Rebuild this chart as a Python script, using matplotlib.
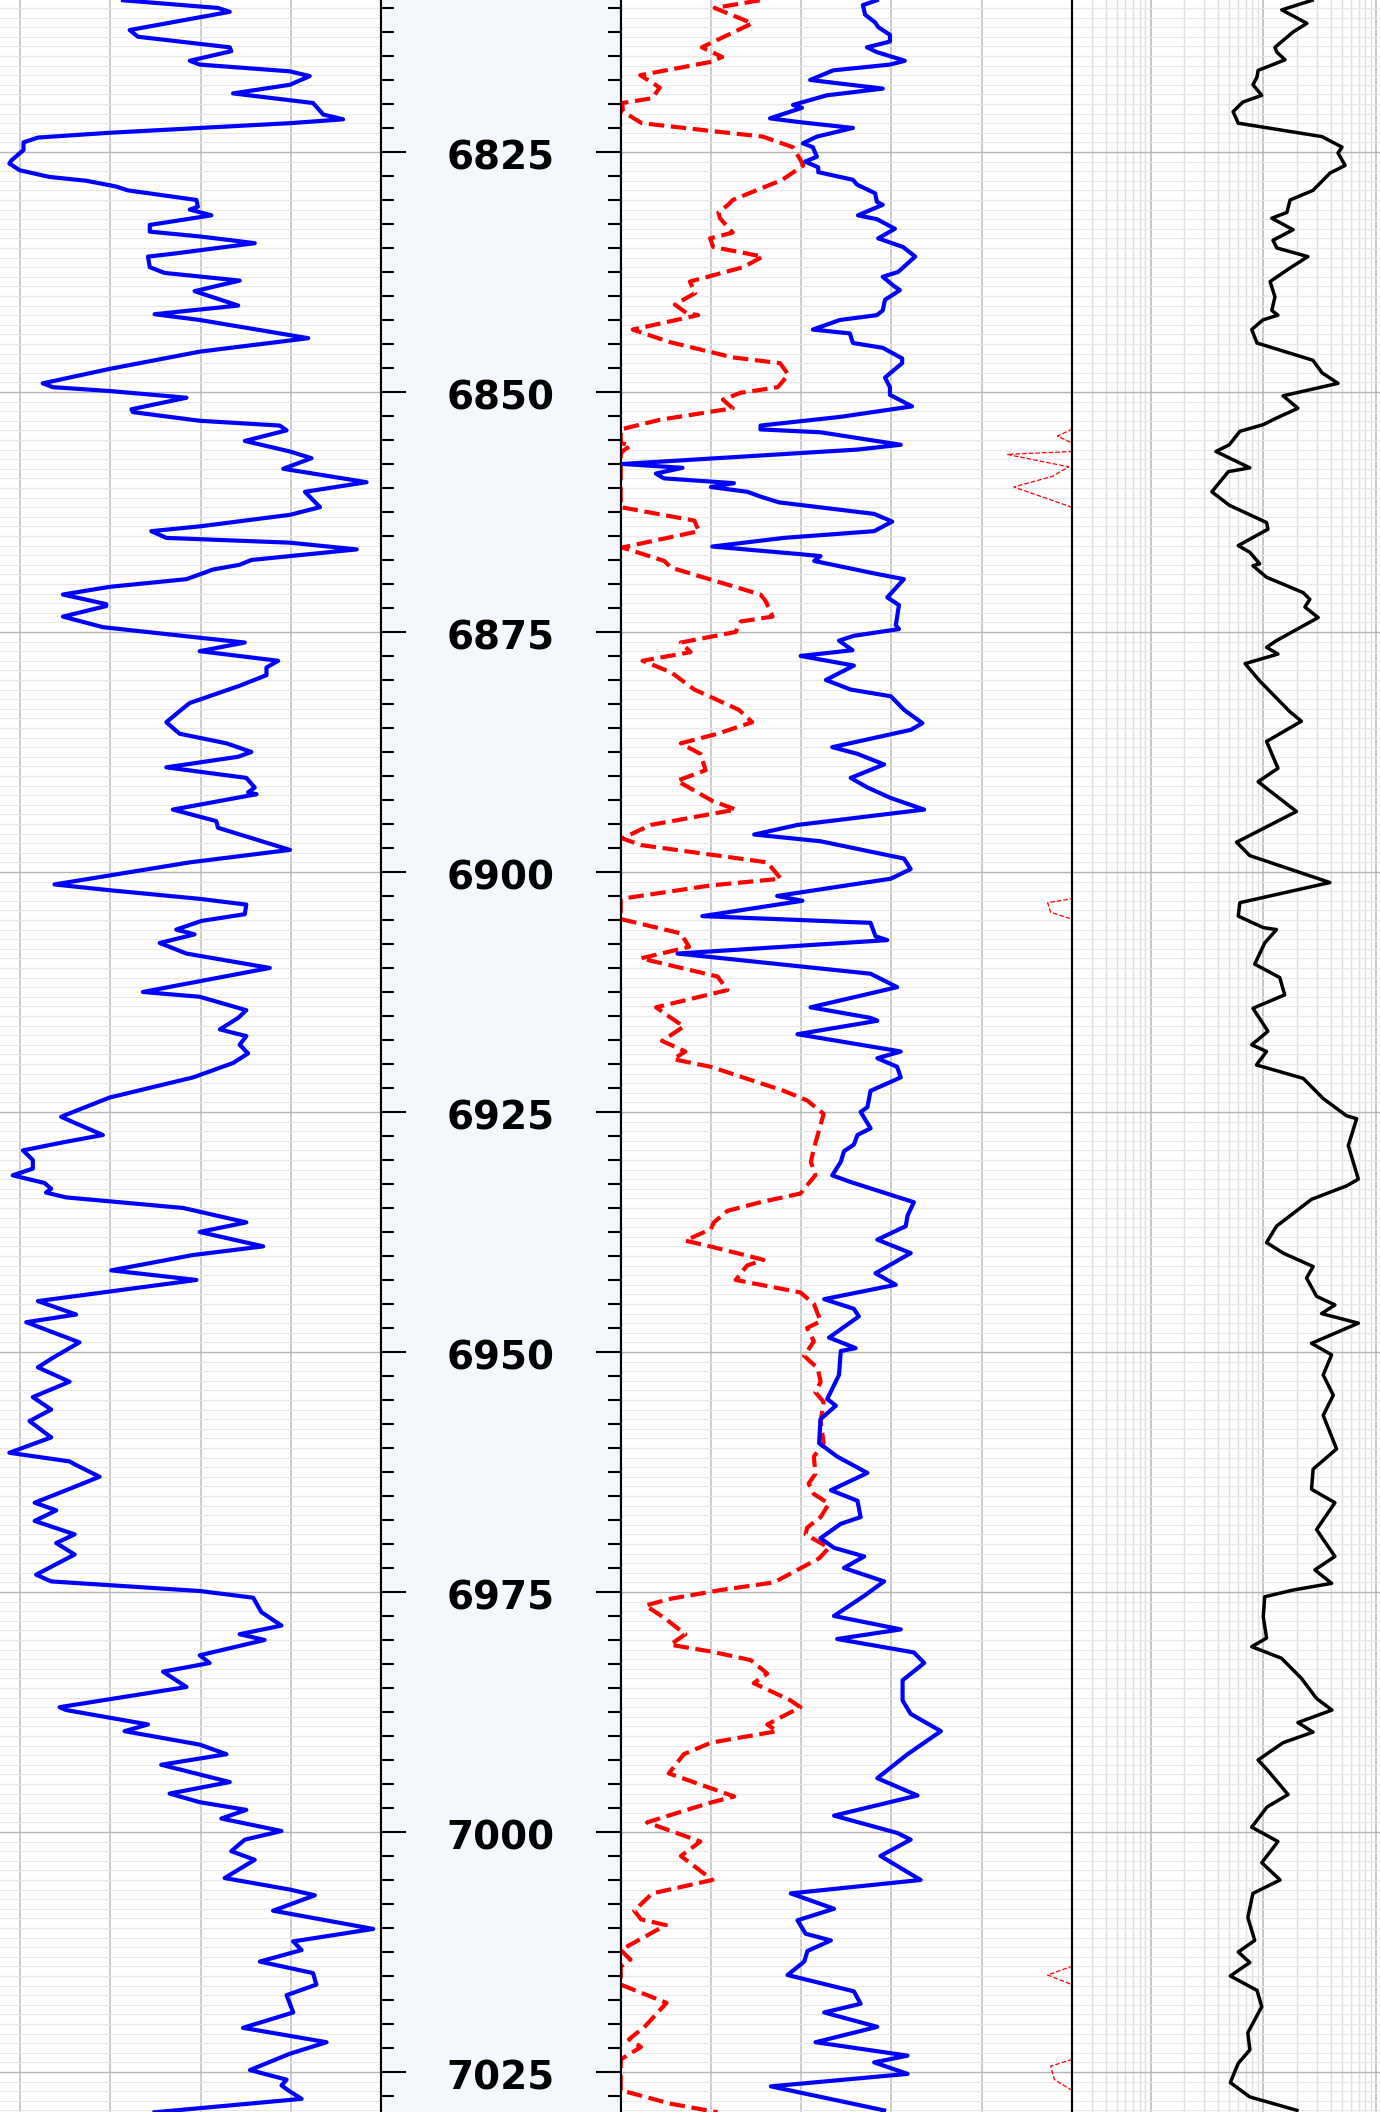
import numpy as np
import matplotlib
matplotlib.use("Agg")
import matplotlib.pyplot as plt
from matplotlib.ticker import MultipleLocator
from matplotlib.transforms import offset_copy

# zakres glebokosci widoczny na obrazku
TOP = 6809.17
BASE = 7029.17
depth_labels = [6825, 6850, 6875, 6900, 6925, 6950, 6975, 7000, 7025]

# GR (sciezka 1)
gr_depth = [6809.2, 6810.0, 6810.4, 6812.3, 6813.0, 6814.1, 6814.5, 6815.5, 6815.9, 6816.6,
            6817.1, 6818.0, 6818.9, 6819.9, 6821.1, 6821.6, 6822.0, 6823.0, 6823.5, 6824.0,
            6824.8, 6825.9, 6826.2, 6826.9, 6827.6, 6828.0, 6828.6, 6829.0, 6830.0, 6830.7,
            6831.0, 6831.6, 6832.6, 6833.3, 6833.8, 6834.5, 6835.6, 6835.9, 6837.0, 6837.6,
            6838.4, 6839.5, 6841.0, 6841.9, 6842.5, 6844.4, 6845.8, 6847.6, 6849.1, 6849.5,
            6849.9, 6850.6, 6851.8, 6852.1, 6853.0, 6853.5, 6854.0, 6855.1, 6856.2, 6856.9,
            6858.0, 6859.4, 6860.4, 6862.0, 6862.8, 6864.0, 6864.5, 6865.2, 6865.7, 6866.4,
            6867.1, 6867.5, 6868.0, 6868.5, 6869.5, 6870.3, 6871.1, 6872.1, 6872.3, 6873.4,
            6874.5, 6875.6, 6876.1, 6877.0, 6878.0, 6878.7, 6879.5, 6880.6, 6882.4, 6883.1,
            6884.4, 6885.6, 6886.6, 6887.5, 6888.0, 6889.1, 6890.2, 6891.2, 6891.7, 6891.9,
            6893.5, 6894.7, 6895.4, 6897.7, 6899.0, 6901.3, 6901.9, 6902.8, 6903.4, 6904.4,
            6905.1, 6906.0, 6906.5, 6907.4, 6908.5, 6910.0, 6912.5, 6913.0, 6914.4, 6915.2,
            6916.4, 6917.1, 6918.0, 6918.9, 6919.9, 6921.4, 6923.5, 6925.5, 6926.2, 6927.4,
            6928.1, 6929.0, 6930.0, 6930.9, 6931.6, 6932.4, 6933.0, 6933.4, 6933.9, 6935.0,
            6936.5, 6937.5, 6939.0, 6939.9, 6941.5, 6942.5, 6944.7, 6946.1, 6946.9, 6949.0,
            6950.6, 6951.6, 6953.1, 6954.7, 6956.0, 6957.2, 6958.9, 6960.5, 6961.4, 6961.7,
            6963.0, 6964.4, 6965.7, 6966.5, 6967.6, 6969.0, 6969.9, 6971.1, 6973.2, 6973.9,
            6974.9, 6975.6, 6977.1, 6978.5, 6979.4, 6980.0, 6981.6, 6982.4, 6983.3, 6984.9,
            6987.0, 6987.3, 6988.8, 6989.5, 6990.9, 6991.9, 6993.0, 6994.8, 6996.0, 6996.9,
            6997.7, 6998.6, 6999.9, 7000.8, 7002.0, 7002.9, 7004.8, 7006.0, 7006.6, 7008.2,
            7010.1, 7011.4, 7012.3, 7013.5, 7014.7, 7015.9, 7017.0, 7018.8, 7020.4, 7021.9,
            7023.1, 7024.8, 7025.8, 7026.4, 7026.9, 7027.8, 7029.2]
gr = [64.2, 95.8, 99.7, 66.4, 69.2, 99.7, 100.2, 86.4, 89.7, 119.7,
      126.3, 119.7, 100.8, 127.4, 130.8, 137.4, 119.7, 59.7, 35.9, 31.1,
      31.1, 27.0, 26.4, 29.8, 39.7, 52.0, 61.9, 65.8, 88.6, 89.1,
      86.4, 93.6, 73.1, 73.1, 89.7, 108.0, 80.8, 72.5, 73.1, 78.0,
      103.0, 88.0, 102.5, 74.7, 89.7, 125.8, 89.7, 59.7, 37.5, 40.9,
      59.7, 85.3, 67.0, 67.5, 89.7, 116.3, 118.6, 104.7, 119.7, 126.9,
      117.5, 145.2, 124.7, 129.7, 119.7, 89.7, 73.6, 78.6, 119.7, 141.9,
      119.7, 106.9, 103.0, 94.1, 85.3, 59.7, 44.2, 58.6, 58.6, 44.2,
      57.5, 89.7, 104.7, 89.7, 115.8, 111.9, 111.9, 103.0, 86.4, 83.6,
      78.6, 83.0, 98.6, 106.9, 102.5, 78.6, 105.2, 108.0, 105.8, 108.6,
      80.8, 95.2, 95.8, 119.7, 86.4, 41.4, 59.7, 89.7, 105.2, 104.7,
      90.3, 81.9, 88.0, 76.4, 85.3, 113.0, 70.8, 89.7, 105.2, 102.5,
      96.4, 105.2, 103.0, 105.8, 100.8, 87.5, 59.7, 43.6, 48.6, 57.5,
      45.3, 30.9, 34.2, 34.2, 27.5, 38.1, 40.3, 38.6, 45.3, 84.2,
      105.2, 89.7, 110.8, 87.5, 60.3, 88.6, 35.9, 48.6, 32.0, 49.7,
      40.9, 35.9, 46.4, 34.2, 40.3, 33.1, 40.3, 26.4, 46.4, 48.1,
      56.4, 45.3, 34.8, 42.0, 34.8, 48.1, 42.0, 48.1, 35.3, 40.3,
      89.7, 107.5, 110.2, 116.9, 103.0, 111.3, 89.7, 93.0, 77.5, 85.3,
      43.1, 45.3, 72.5, 64.7, 89.7, 98.6, 76.9, 99.7, 79.7, 89.7,
      105.2, 96.9, 116.9, 104.7, 100.2, 108.0, 98.0, 119.7, 128.0, 114.1,
      147.4, 120.8, 123.6, 109.7, 127.4, 128.5, 118.6, 120.8, 104.1, 131.9,
      119.7, 106.4, 118.6, 116.9, 119.1, 123.6, 74.7]

# NPHI (czerwona przerywana, sciezka 3)
nphi_depth = [6809.2, 6810.0, 6811.6, 6814.1, 6815.1, 6815.6, 6817.0, 6818.3, 6819.4, 6819.9,
              6820.8, 6822.0, 6822.8, 6823.4, 6824.5, 6825.8, 6826.4, 6827.9, 6830.0, 6830.5,
              6831.3, 6831.9, 6833.4, 6834.0, 6834.9, 6835.9, 6837.0, 6838.5, 6839.7, 6840.9,
              6841.8, 6842.0, 6843.5, 6844.8, 6846.4, 6847.0, 6848.2, 6849.5, 6850.1, 6850.8,
              6851.7, 6852.9, 6853.9, 6854.6, 6855.3, 6855.6, 6856.2, 6856.5, 6857.8, 6858.8,
              6859.9, 6862.0, 6863.4, 6864.5, 6866.2, 6867.6, 6868.3, 6871.1, 6871.8, 6873.4,
              6873.9, 6875.0, 6876.1, 6877.1, 6878.0, 6879.2, 6881.0, 6883.1, 6884.4, 6885.6,
              6886.6, 6887.7, 6889.4, 6890.5, 6892.6, 6893.5, 6895.1, 6896.5, 6897.2, 6899.0,
              6900.7, 6901.4, 6902.8, 6903.2, 6904.2, 6904.9, 6906.4, 6907.8, 6909.0, 6910.9,
              6912.3, 6914.1, 6915.2, 6916.1, 6917.6, 6918.7, 6919.5, 6920.3, 6922.8, 6923.8,
              6925.2, 6926.3, 6928.8, 6930.2, 6931.6, 6933.0, 6933.5, 6934.4, 6935.3, 6936.5,
              6937.2, 6938.4, 6939.1, 6940.4, 6941.0, 6942.5, 6943.8, 6945.0, 6946.8, 6947.5,
              6948.9, 6950.4, 6951.7, 6953.1, 6954.2, 6955.2, 6957.2, 6959.5, 6960.9, 6962.7,
              6963.7, 6964.8, 6965.8, 6967.2, 6968.3, 6969.0, 6970.4, 6971.5, 6974.0, 6974.8,
              6975.7, 6976.4, 6977.7, 6979.4, 6980.5, 6981.2, 6982.1, 6983.5, 6984.5, 6986.3,
              6987.0, 6988.8, 6989.5, 6990.7, 6991.9, 6993.9, 6996.3, 6997.0, 6999.0, 7001.0,
              7002.5, 7005.0, 7006.4, 7008.2, 7009.1, 7009.7, 7012.3, 7013.3, 7014.0, 7014.9,
              7015.9, 7017.8, 7020.2, 7021.6, 7022.4, 7023.7, 7024.4, 7025.8, 7026.9, 7028.3,
              7029.2]
nphi = [0.265, 0.325, 0.275, 0.342, 0.315, 0.329, 0.424, 0.398, 0.408, 0.448,
        0.447, 0.422, 0.331, 0.261, 0.221, 0.211, 0.207, 0.235, 0.301, 0.307,
        0.320, 0.318, 0.301, 0.331, 0.327, 0.261, 0.287, 0.358, 0.351, 0.378,
        0.362, 0.347, 0.434, 0.385, 0.301, 0.238, 0.227, 0.241, 0.291, 0.314,
        0.301, 0.398, 0.450, 0.469, 0.450, 0.437, 0.448, 0.536, 0.454, 0.476,
        0.527, 0.450, 0.352, 0.346, 0.448, 0.392, 0.383, 0.264, 0.257, 0.248,
        0.290, 0.297, 0.370, 0.357, 0.421, 0.383, 0.352, 0.293, 0.275, 0.321,
        0.370, 0.344, 0.337, 0.375, 0.328, 0.297, 0.410, 0.448, 0.423, 0.255,
        0.237, 0.330, 0.450, 0.482, 0.478, 0.450, 0.370, 0.359, 0.423, 0.321,
        0.308, 0.403, 0.383, 0.366, 0.395, 0.364, 0.380, 0.330, 0.233, 0.202,
        0.180, 0.184, 0.193, 0.197, 0.191, 0.206, 0.211, 0.264, 0.308, 0.326,
        0.330, 0.364, 0.326, 0.260, 0.282, 0.297, 0.211, 0.193, 0.184, 0.202,
        0.193, 0.206, 0.188, 0.184, 0.191, 0.180, 0.184, 0.180, 0.193, 0.191,
        0.200, 0.193, 0.173, 0.184, 0.202, 0.204, 0.173, 0.186, 0.246, 0.317,
        0.383, 0.417, 0.392, 0.364, 0.384, 0.330, 0.277, 0.255, 0.273, 0.224,
        0.211, 0.255, 0.242, 0.330, 0.366, 0.386, 0.299, 0.333, 0.415, 0.344,
        0.370, 0.328, 0.408, 0.432, 0.423, 0.390, 0.450, 0.437, 0.450, 0.482,
        0.450, 0.389, 0.417, 0.439, 0.423, 0.450, 0.478, 0.473, 0.450, 0.384,
        0.321]

# RHOB (niebieska, sciezka 3)
rhob_depth = [6809.2, 6809.7, 6810.7, 6811.5, 6812.0, 6812.8, 6813.5, 6814.1, 6814.6, 6815.5,
              6815.9, 6816.5, 6817.5, 6818.4, 6819.1, 6819.8, 6820.1, 6820.4, 6821.5, 6821.9,
              6822.5, 6823.4, 6824.1, 6824.5, 6825.5, 6826.0, 6826.6, 6827.1, 6827.9, 6828.4,
              6829.3, 6830.2, 6830.5, 6831.6, 6832.0, 6833.0, 6834.0, 6834.9, 6835.9, 6837.5,
              6838.0, 6838.9, 6839.4, 6840.4, 6841.5, 6842.0, 6842.5, 6843.5, 6843.9, 6844.9,
              6845.4, 6846.5, 6847.0, 6848.5, 6849.5, 6850.3, 6851.5, 6852.6, 6853.5, 6853.9,
              6854.2, 6855.5, 6856.0, 6857.5, 6857.9, 6858.5, 6859.0, 6859.5, 6859.9, 6860.4,
              6860.9, 6861.5, 6862.7, 6863.5, 6864.5, 6865.2, 6866.1, 6866.9, 6867.1, 6867.6,
              6868.9, 6869.5, 6871.4, 6872.2, 6874.3, 6874.7, 6875.4, 6875.9, 6876.9, 6877.5,
              6878.5, 6880.0, 6881.0, 6881.7, 6883.1, 6884.5, 6885.2, 6887.0, 6887.7, 6888.8,
              6890.2, 6891.2, 6892.3, 6893.5, 6895.1, 6896.1, 6896.8, 6898.6, 6899.7, 6900.7,
              6902.5, 6903.0, 6904.6, 6905.3, 6906.7, 6907.1, 6908.5, 6910.6, 6912.0, 6914.1,
              6915.2, 6915.5, 6916.9, 6918.7, 6919.4, 6920.3, 6921.4, 6922.8, 6924.5, 6925.0,
              6926.7, 6927.4, 6928.4, 6929.1, 6930.2, 6931.6, 6932.3, 6934.4, 6935.8, 6936.9,
              6938.3, 6939.7, 6941.1, 6941.8, 6943.0, 6944.5, 6945.5, 6946.3, 6948.5, 6949.6,
              6949.9, 6952.4, 6954.9, 6955.6, 6957.0, 6959.5, 6960.9, 6962.6, 6964.4, 6965.5,
              6967.2, 6967.9, 6969.4, 6970.4, 6971.3, 6972.5, 6973.9, 6975.4, 6977.5, 6978.9,
              6979.9, 6981.3, 6982.4, 6984.2, 6986.3, 6987.7, 6989.5, 6991.9, 6994.4, 6996.2,
              6998.3, 7000.1, 7000.8, 7002.5, 7005.0, 7006.4, 7008.0, 7009.2, 7010.6, 7011.3,
              7012.4, 7013.5, 7014.9, 7016.6, 7017.9, 7018.8, 7020.3, 7021.9, 7023.3, 7024.0,
              7025.2, 7026.5, 7029.0]
rhob = [2.518, 2.487, 2.492, 2.514, 2.521, 2.547, 2.547, 2.496, 2.518, 2.580,
        2.547, 2.421, 2.370, 2.531, 2.407, 2.354, 2.332, 2.352, 2.281, 2.348,
        2.465, 2.385, 2.354, 2.376, 2.385, 2.359, 2.388, 2.388, 2.465, 2.474,
        2.514, 2.518, 2.531, 2.476, 2.518, 2.558, 2.521, 2.576, 2.603, 2.565,
        2.531, 2.554, 2.569, 2.536, 2.531, 2.518, 2.436, 2.376, 2.458, 2.465,
        2.531, 2.574, 2.574, 2.536, 2.547, 2.547, 2.596, 2.436, 2.260, 2.260,
        2.393, 2.571, 2.475, 1.954, 2.087, 2.028, 2.046, 2.201, 2.150, 2.231,
        2.260, 2.301, 2.512, 2.552, 2.512, 2.312, 2.153, 2.349, 2.393, 2.379,
        2.512, 2.578, 2.541, 2.567, 2.560, 2.567, 2.467, 2.434, 2.464, 2.349,
        2.467, 2.405, 2.460, 2.549, 2.578, 2.619, 2.593, 2.419, 2.475, 2.534,
        2.460, 2.497, 2.549, 2.623, 2.342, 2.246, 2.393, 2.578, 2.593, 2.549,
        2.297, 2.353, 2.131, 2.504, 2.515, 2.541, 2.076, 2.504, 2.563, 2.371,
        2.504, 2.519, 2.342, 2.571, 2.519, 2.563, 2.571, 2.504, 2.497, 2.482,
        2.504, 2.475, 2.467, 2.445, 2.438, 2.419, 2.460, 2.600, 2.586, 2.582,
        2.519, 2.593, 2.541, 2.515, 2.560, 2.401, 2.467, 2.478, 2.412, 2.471,
        2.438, 2.434, 2.408, 2.427, 2.393, 2.390, 2.430, 2.497, 2.416, 2.475,
        2.482, 2.438, 2.393, 2.423, 2.490, 2.445, 2.534, 2.490, 2.423, 2.571,
        2.430, 2.600, 2.623, 2.575, 2.575, 2.593, 2.660, 2.586, 2.519, 2.608,
        2.423, 2.563, 2.593, 2.526, 2.615, 2.327, 2.423, 2.342, 2.360, 2.416,
        2.364, 2.357, 2.320, 2.467, 2.482, 2.401, 2.519, 2.382, 2.586, 2.512,
        2.586, 2.283, 2.534]

# opornosc (sciezka 4, skala log)
res_depth = [6809.2, 6810.2, 6811.6, 6812.5, 6814.1, 6814.6, 6815.4, 6816.5, 6817.2, 6818.0,
             6819.1, 6819.8, 6820.8, 6822.0, 6823.4, 6824.5, 6825.1, 6826.4, 6827.2, 6829.0,
             6830.0, 6831.3, 6831.9, 6833.1, 6834.2, 6835.0, 6835.9, 6837.1, 6838.5, 6840.1,
             6841.5, 6842.0, 6842.5, 6843.5, 6844.9, 6846.7, 6848.0, 6849.1, 6850.4, 6851.7,
             6852.7, 6853.4, 6854.1, 6855.5, 6856.2, 6857.9, 6858.3, 6860.4, 6861.8, 6863.6,
             6864.3, 6866.0, 6866.7, 6867.9, 6868.1, 6869.3, 6870.9, 6871.6, 6872.4, 6873.5,
             6875.9, 6876.6, 6877.3, 6878.3, 6880.1, 6883.3, 6884.3, 6886.4, 6889.2, 6890.6,
             6893.7, 6896.9, 6898.3, 6901.1, 6903.2, 6904.6, 6905.8, 6906.0, 6907.4, 6909.6,
             6911.0, 6912.8, 6914.2, 6916.6, 6918.0, 6918.7, 6920.1, 6921.5, 6923.6, 6925.4,
             6925.7, 6928.5, 6932.0, 6932.7, 6934.1, 6936.9, 6938.6, 6939.7, 6941.1, 6942.3,
             6944.2, 6945.1, 6946.0, 6947.0, 6949.1, 6950.3, 6952.4, 6954.5, 6956.6, 6960.1,
             6962.2, 6964.3, 6965.7, 6968.5, 6971.3, 6972.7, 6974.1, 6974.8, 6975.5, 6977.6,
             6979.8, 6980.7, 6981.9, 6984.0, 6986.1, 6987.3, 6988.6, 6989.6, 6990.7, 6992.5,
             6993.5, 6996.1, 6997.4, 6999.5, 7001.0, 7003.2, 7005.0, 7006.4, 7008.9, 7011.3,
             7012.5, 7013.6, 7015.0, 7016.5, 7018.2, 7020.9, 7022.7, 7024.1, 7026.1, 7027.6,
             7029.0]
res = [27.1, 14.6, 24.4, 18.4, 12.7, 13.2, 15.6, 9.0, 8.8, 8.1,
       9.7, 6.6, 5.4, 6.0, 33.2, 50.0, 46.0, 53.2, 39.1, 27.6,
       17.3, 16.2, 11.9, 18.4, 12.2, 13.2, 24.9, 17.2, 11.5, 12.7,
       11.9, 13.5, 9.9, 7.9, 8.8, 27.6, 33.2, 46.0, 15.0, 20.3,
       13.2, 10.0, 6.2, 5.0, 3.8, 7.6, 4.9, 3.5, 5.0, 10.7,
       11.0, 6.0, 7.6, 9.3, 8.1, 10.7, 22.6, 25.9, 23.4, 30.7,
       13.1, 10.7, 13.5, 6.9, 9.3, 17.2, 21.8, 10.7, 13.5, 9.0,
       19.7, 5.8, 7.6, 39.0, 6.2, 6.0, 10.0, 13.1, 10.3, 8.4,
       14.0, 15.5, 8.1, 11.0, 7.9, 10.7, 8.7, 22.6, 34.0, 54.8,
       67.3, 56.8, 69.7, 54.8, 26.8, 13.1, 10.7, 15.0, 27.7, 24.2,
       29.7, 43.2, 32.9, 69.7, 26.8, 40.4, 34.0, 41.8, 34.0, 44.7,
       27.7, 26.8, 43.2, 29.7, 43.2, 28.7, 40.4, 18.4, 10.3, 10.0,
       10.7, 7.9, 14.5, 21.8, 29.7, 40.7, 20.3, 27.6, 15.0, 9.0,
       10.8, 16.6, 10.8, 7.9, 13.5, 9.7, 14.1, 8.1, 7.3, 8.4,
       6.0, 7.6, 5.1, 8.8, 9.7, 7.3, 7.6, 6.0, 5.1, 7.6,
       19.9]

W = 1380
fig = plt.figure(figsize=(13.8, 21.12), dpi=100)
tw = 451 / W
ax1 = fig.add_axes([-70 / W, 0, tw, 1])
axd = fig.add_axes([381 / W, 0, 239.7 / W, 1])
ax3 = fig.add_axes([620.7 / W, 0, tw, 1])
ax4 = fig.add_axes([1071.7 / W, 0, tw, 1])


def track_style(ax):
    ax.set_ylim(BASE, TOP)
    ax.set_axisbelow(True)
    ax.yaxis.set_major_locator(MultipleLocator(25))
    ax.yaxis.set_minor_locator(MultipleLocator(1))
    ax.grid(axis='y', which='major', color='#b4b4b4', lw=1.0)
    ax.grid(axis='y', which='minor', color='#e8e8e8', lw=0.8)
    for d in np.arange(6810, 7030, 5):
        if d % 25:
            ax.axhline(d, color='#d6d6d6', lw=0.8, zorder=0.5)
    ax.tick_params(which='both', length=0, labelleft=False, labelbottom=False)
    for s in ['top', 'bottom']:
        ax.spines[s].set_visible(False)
    for s in ['left', 'right']:
        ax.spines[s].set_color('black')
        ax.spines[s].set_linewidth(1.5)


for ax in (ax1, ax3, ax4):
    track_style(ax)

# sciezka 1 - GR
ax1.set_xlim(0, 150)
ax1.set_xticks(np.linspace(0, 150, 6))
ax1.grid(axis='x', color='#c4c4c4', lw=1.2)
ax1.plot(gr, gr_depth, color='blue', lw=3.0)

# sciezka 3 - NPHI + RHOB
nphi_a = np.array(nphi)
ax3.set_xlim(0.45, -0.15)
ax3.set_xticks(np.linspace(0.45, -0.15, 6))
ax3.grid(axis='x', color='#c4c4c4', lw=1.2)
ax3.plot(np.minimum(nphi_a, 0.45), nphi_depth, color='red', lw=3.0, ls='--')
ax3.plot(nphi_a - 0.6, nphi_depth, color='red', lw=0.9, ls='--')  # backup
ax3b = ax3.twiny()
ax3b.set_xlim(1.95, 2.95)
ax3b.set_ylim(BASE, TOP)
ax3b.axis('off')
ax3b.plot(rhob, rhob_depth, color='blue', lw=3.0)

# sciezka 4 - opornosc
ax4.set_xscale('log')
ax4.set_xlim(0.2, 2000)
ax4.grid(axis='x', which='major', color='#bdbdbd', lw=1.2)
ax4.grid(axis='x', which='minor', color='#e0e0e0', lw=1.0)
ax4.tick_params(which='both', length=0, labelbottom=False)
ax4.plot(res, res_depth, color='black', lw=2.5)

# sciezka glebokosci
axd.set_facecolor('#f4f8fd')
axd.set_ylim(BASE, TOP)
axd.set_xlim(0, 1)
axd.yaxis.set_major_locator(MultipleLocator(25))
axd.yaxis.set_minor_locator(MultipleLocator(2.5))
axd.tick_params(axis='y', which='both', direction='in', left=True, right=True,
                labelleft=False, width=1.5, color='black')
axd.tick_params(axis='y', which='major', length=18)
axd.tick_params(axis='y', which='minor', length=9.5)
axd.tick_params(axis='x', length=0, labelbottom=False)
for s in ['top', 'bottom']:
    axd.spines[s].set_visible(False)
for s in ['left', 'right']:
    axd.spines[s].set_linewidth(1.5)
lab_tr = offset_copy(axd.transData, fig=fig, x=0, y=-7, units='dots')
for d in depth_labels:
    axd.text(0.5, d, str(d), transform=lab_tr, ha='center', va='center',
             fontsize=28, fontweight='bold')

fig.savefig('out.png', dpi=100)
